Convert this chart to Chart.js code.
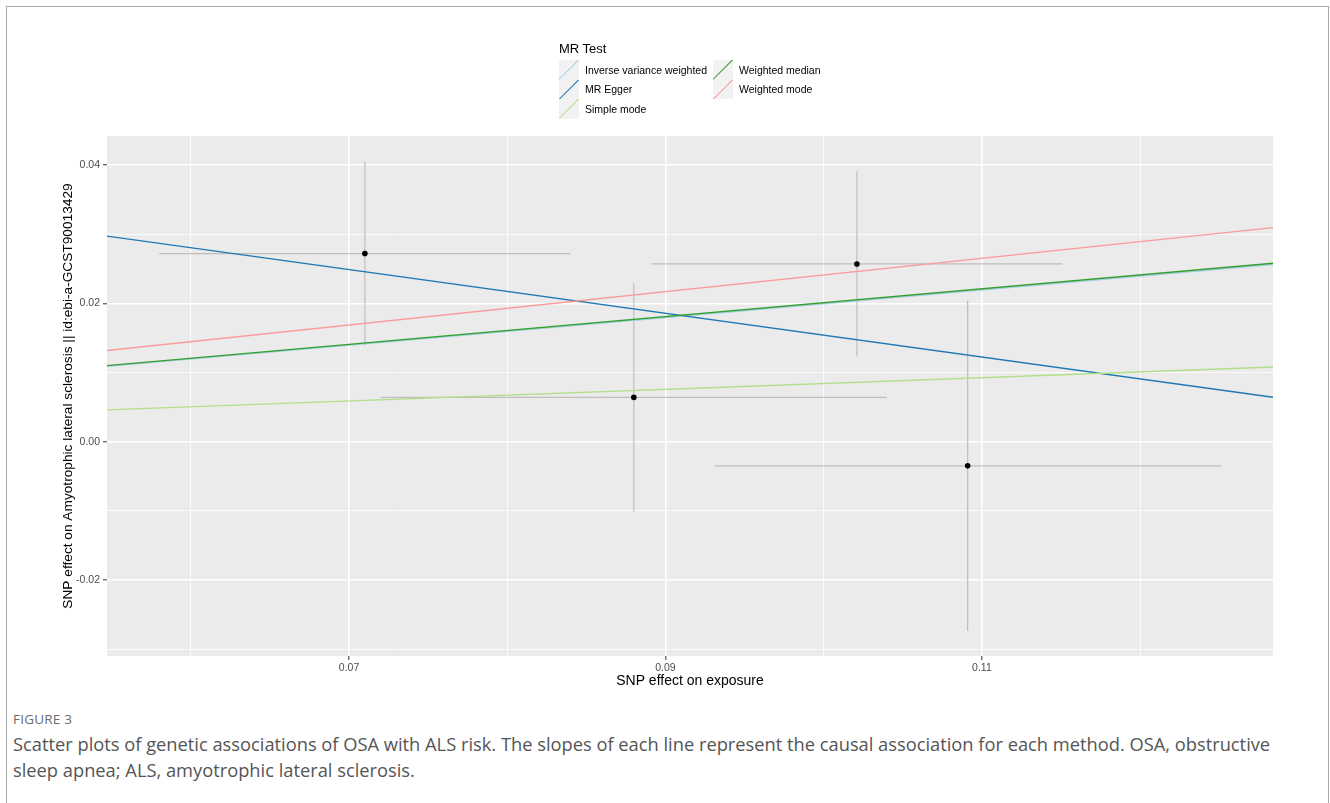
<!DOCTYPE html>
<html>
<head>
<meta charset="utf-8">
<script src="https://cdn.jsdelivr.net/npm/chart.js@4"></script>
<style>
  body { margin: 0; background: #fff; width: 1330px; height: 803px; overflow: hidden; position: relative; font-family: "Liberation Sans", Arial, sans-serif; }
  #frame { position: absolute; left: 6px; top: 6px; width: 1321px; height: 820px; border: 1.5px solid #a9a9a9; border-bottom: none; }
  #plot { position: absolute; left: 0; top: 0; }
  #legend { position: absolute; left: 559px; top: 41px; }
  #legend .title { font-size: 13px; color: #000; margin-bottom: 4px; }
  #legend .cols { display: flex; }
  #legend .col { margin-right: 6px; }
  #legend .item { display: flex; align-items: center; height: 19.5px; }
  #legend .key { width: 20px; height: 19.5px; background: #f2f2f2; position: relative; overflow: hidden; }
  #legend .key i { position: absolute; left: -4px; top: 9px; width: 28px; height: 1.4px; transform: rotate(-45deg); }
  #legend .lab { font-size: 10.5px; color: #000; margin-left: 6px; }
  #figlabel { position: absolute; left: 13px; top: 710px; font-family: "Open Sans", "Noto Sans", sans-serif; font-size: 13.5px; color: #6b6b6b; letter-spacing: 0.2px; }
  #caption { position: absolute; left: 13px; top: 731px; font-family: "Open Sans", "Noto Sans", sans-serif; font-size: 18.3px; line-height: 26px; color: #555; white-space: nowrap; }
</style>
</head>
<body>
<div id="frame"></div>
<canvas id="plot" width="1330" height="700"></canvas>
<div id="legend"></div>
<div id="figlabel">FIGURE 3</div>
<div id="caption">Scatter plots of genetic associations of OSA with ALS risk. The slopes of each line represent the causal association for each method. OSA, obstructive<br>sleep apnea; ALS, amyotrophic lateral sclerosis.</div>
<script>
// SNP level estimates (exposure / outcome) and their standard errors
const snpBx = [0.0710, 0.0880, 0.1021, 0.1091];
const snpSeBx = [0.0130, 0.0160, 0.0130, 0.0160];
const snpBy = [0.0272, 0.0064, 0.0257, -0.0035];
const snpSeBy = [0.0133, 0.0165, 0.0134, 0.0239];

// MR methods: slope and intercept of each fitted line
const methods = ['Inverse variance weighted', 'MR Egger', 'Simple mode', 'Weighted median', 'Weighted mode'];
const slopes = [0.1995, -0.316, 0.084, 0.201, 0.241];
const intercepts = [0, 0.0470, 0, 0, 0];
const methodColors = ['#A6CEE3', '#1F78B4', '#B2DF8A', '#33A02C', '#FB9A99'];

// axis limits and ticks
const xMin = 0.0547, xMax = 0.1284;
const yMin = -0.0310, yMax = 0.0442;
const xTicks = [0.06, 0.07, 0.08, 0.09, 0.10, 0.11, 0.12];
const xMajor = [0.07, 0.09, 0.11];
const yTicks = [-0.03, -0.02, -0.01, 0.00, 0.01, 0.02, 0.03, 0.04];
const yMajor = [-0.02, 0.00, 0.02, 0.04];

function isMajor(v, list) {
    return list.some(m => Math.abs(m - v) < 1e-9);
}

// legend, filled column-wise like ggplot
const legend = document.getElementById('legend');
let html = '<div class="title">MR Test</div><div class="cols">';
[[0, 1, 2], [3, 4]].forEach(col => {
    html += '<div class="col">';
    col.forEach(i => {
        html += `<div class="item"><span class="key"><i style="background:${methodColors[i]}"></i></span><span class="lab">${methods[i]}</span></div>`;
    });
    html += '</div>';
});
legend.innerHTML = html + '</div>';

let datasets = [];

// fitted lines, last method drawn on top
for (let i = methods.length - 1; i >= 0; i--) {
    datasets.push({
        label: methods[i],
        data: [
            {x: xMin, y: intercepts[i] + slopes[i] * xMin},
            {x: xMax, y: intercepts[i] + slopes[i] * xMax}
        ],
        borderColor: methodColors[i],
        borderWidth: 1.4,
        pointRadius: 0,
        showLine: true
    });
}

datasets.push({
    label: 'SNPs',
    data: snpBx.map((x, i) => ({x: x, y: snpBy[i]})),
    backgroundColor: '#000',
    borderColor: '#000',
    pointRadius: 2.8,
    borderWidth: 0,
    showLine: false
});

snpBx.forEach((x, i) => {
    datasets.push({
        data: [{x: x - snpSeBx[i], y: snpBy[i]}, {x: x + snpSeBx[i], y: snpBy[i]}],
        borderColor: '#bebebe', borderWidth: 1.2, pointRadius: 0, showLine: true
    });
    datasets.push({
        data: [{x: x, y: snpBy[i] - snpSeBy[i]}, {x: x, y: snpBy[i] + snpSeBy[i]}],
        borderColor: '#bebebe', borderWidth: 1.2, pointRadius: 0, showLine: true
    });
});

const panelBg = {
    id: 'panelBg',
    beforeDraw(chart) {
        const a = chart.chartArea, ctx = chart.ctx;
        ctx.save();
        ctx.fillStyle = '#EBEBEB';
        ctx.fillRect(a.left, a.top, a.right - a.left, a.bottom - a.top);
        ctx.restore();
    }
};

const tickFont = {family: '"Liberation Sans", Arial, sans-serif', size: 10.5};

new Chart(document.getElementById('plot').getContext('2d'), {
    type: 'scatter',
    data: {datasets: datasets},
    plugins: [panelBg],
    options: {
        responsive: false,
        animation: false,
        devicePixelRatio: 1,
        layout: {padding: {left: 60, top: 136, right: 57, bottom: 0}},
        plugins: {legend: {display: false}, tooltip: {enabled: false}},
        scales: {
            x: {
                type: 'linear', min: xMin, max: xMax,
                afterBuildTicks: s => { s.ticks = xTicks.map(v => ({value: v})); },
                afterFit: s => { s.height = 44; },
                border: {display: false},
                grid: {
                    color: '#fff',
                    lineWidth: c => isMajor(c.tick.value, xMajor) ? 1.6 : 0.8,
                    tickLength: 4,
                    tickColor: c => isMajor(c.tick.value, xMajor) ? '#333' : 'rgba(0,0,0,0)',
                    tickWidth: 1
                },
                ticks: {
                    color: '#4d4d4d', font: tickFont, padding: 2, maxRotation: 0, autoSkip: false,
                    callback: v => isMajor(v, xMajor) ? v.toFixed(2) : ''
                },
                title: {display: true, text: 'SNP effect on exposure', color: '#000',
                    font: {family: '"Liberation Sans", Arial, sans-serif', size: 14}, padding: {top: 0, bottom: 10}}
            },
            y: {
                type: 'linear', min: yMin, max: yMax,
                afterBuildTicks: s => { s.ticks = yTicks.map(v => ({value: v})); },
                afterFit: s => { s.width = 47; },
                border: {display: false},
                grid: {
                    color: '#fff',
                    lineWidth: c => isMajor(c.tick.value, yMajor) ? 1.6 : 0.8,
                    tickLength: 4,
                    tickColor: c => isMajor(c.tick.value, yMajor) ? '#333' : 'rgba(0,0,0,0)',
                    tickWidth: 1
                },
                ticks: {
                    color: '#4d4d4d', font: tickFont, padding: 3, autoSkip: false,
                    callback: v => isMajor(v, yMajor) ? v.toFixed(2) : ''
                },
                title: {display: true, text: 'SNP effect on Amyotrophic lateral sclerosis || id:ebi-a-GCST90013429', color: '#000',
                    font: {family: '"Liberation Sans", Arial, sans-serif', size: 13.7}, padding: {top: 0, bottom: 0}}
            }
        }
    }
});
</script>
</body>
</html>
